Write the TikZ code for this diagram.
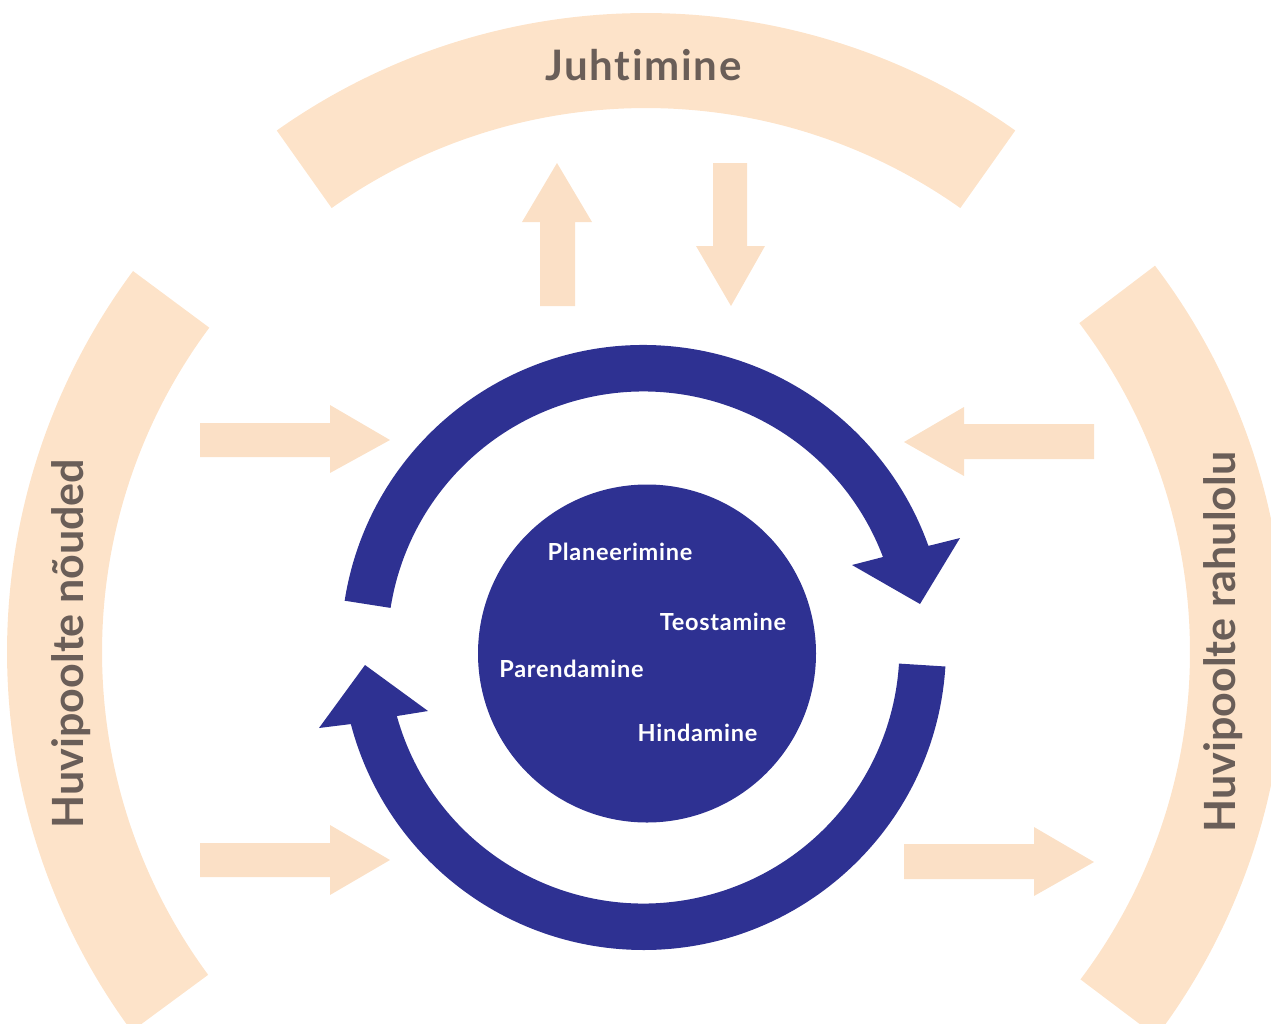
\documentclass[tikz,border=0pt]{standalone}
\usepackage{fontspec}
\setmainfont{Lato}[Ligatures=NoCommon]
\newfontfamily\lsfour{Lato}[Ligatures=NoCommon,LetterSpace=4]
\newfontfamily\lsthree{Lato}[Ligatures=NoCommon,LetterSpace=3]
\usetikzlibrary{calc}
\definecolor{peach}{HTML}{FDE3C9}
\definecolor{peachB}{HTML}{FBE0C6}
\definecolor{navy}{HTML}{2E3192}
\definecolor{taupe}{HTML}{6A5E58}
\begin{document}
\begin{tikzpicture}[x=1pt,y=-1pt,
  band/.style={fill=peach},
  parrow/.style={fill=peachB},
  cyc/.style={fill=navy},
  biglabel/.style={text=taupe,inner sep=0pt,anchor=base,font=\lsfour\fontsize{42}{50}\selectfont\bfseries},
  sidelabel/.style={text=taupe,inner sep=0pt,anchor=base,rotate=90,font=\fontsize{43}{50}\selectfont\bfseries},
  steplabel/.style={text=white,inner sep=0pt,anchor=base,font=\lsthree\fontsize{23.5}{28}\selectfont\bfseries}]
\useasboundingbox (0,0) rectangle (1271,1023);
\clip (0,0) rectangle (1271,1023);
\coordinate (P) at (646,652);
\coordinate (O) at (643.5,647.5);
% peach bands
\fill[band] (P) ++(-125.3:639) arc[start angle=-125.3,end angle=-54.7,radius=639]
  -- ($(P)+(-54.7:544)$) arc[start angle=-54.7,end angle=-125.3,radius=544] -- cycle;
\fill[band] (P) ++(143.6:639) arc[start angle=143.6,end angle=216.6,radius=639]
  -- ($(P)+(216.6:544)$) arc[start angle=216.6,end angle=143.6,radius=544] -- cycle;
\fill[band] (P) ++(-37.2:639) arc[start angle=-37.2,end angle=37,radius=639]
  -- ($(P)+(37:544)$) arc[start angle=37,end angle=-37.2,radius=544] -- cycle;
% peach arrows
\fill[parrow] (540,306) -- (540,222) -- (522,222) -- (557,163) -- (592,222) -- (575,222) -- (575,306) -- cycle;
\fill[parrow] (713,163) -- (747,163) -- (747,246) -- (765,246) -- (731,306) -- (696,246) -- (713,246) -- cycle;
\fill[parrow] (200,423) -- (330,423) -- (330,405) -- (390,440) -- (330,473) -- (330,457) -- (200,457) -- cycle;
\fill[parrow] (200,843) -- (330,843) -- (330,825) -- (390,860) -- (330,895) -- (330,877) -- (200,877) -- cycle;
\fill[parrow] (1094,424) -- (964,424) -- (964,407) -- (904,442) -- (964,476) -- (964,459) -- (1094,459) -- cycle;
\fill[parrow] (904,844) -- (1034,844) -- (1034,827) -- (1094,862) -- (1034,896) -- (1034,879) -- (904,879) -- cycle;
% blue cycle arrows
\fill[cyc] (O) ++(-171.1:302.5) arc[start angle=-171.1,end angle=-19.63,radius=302.5]
  -- (960,538) -- (920,604) -- (852,565)
  -- ($(O)+(-20.7:256)$) arc[start angle=-20.7,end angle=-171.1,radius=256] -- cycle;
\fill[cyc] (O) ++(3.6:302.5) arc[start angle=3.6,end angle=165.34,radius=302.5]
  -- (319,728) -- (365,665) -- (428,711)
  -- ($(O)+(164.47:256)$) arc[start angle=164.47,end angle=3.6,radius=256] -- cycle;
% inner disc
\fill[cyc] (647,653.5) circle[radius=169];
% labels
\node[biglabel] (juht) at (643.5,80) {Juhtimine};
\node[sidelabel] (noud) at (83,643.5) {Huvipoolte nõuded};
\node[sidelabel] (rahu) at (1235,642) {Huvipoolte rahulolu};
\node[steplabel] (plan) at (620,560) {Planeerimine};
\node[steplabel] (teos) at (723,630) {Teostamine};
\node[steplabel] (pare) at (571.5,677) {Parendamine};
\node[steplabel] (hind) at (697.5,741) {Hindamine};
\end{tikzpicture}
\end{document}
